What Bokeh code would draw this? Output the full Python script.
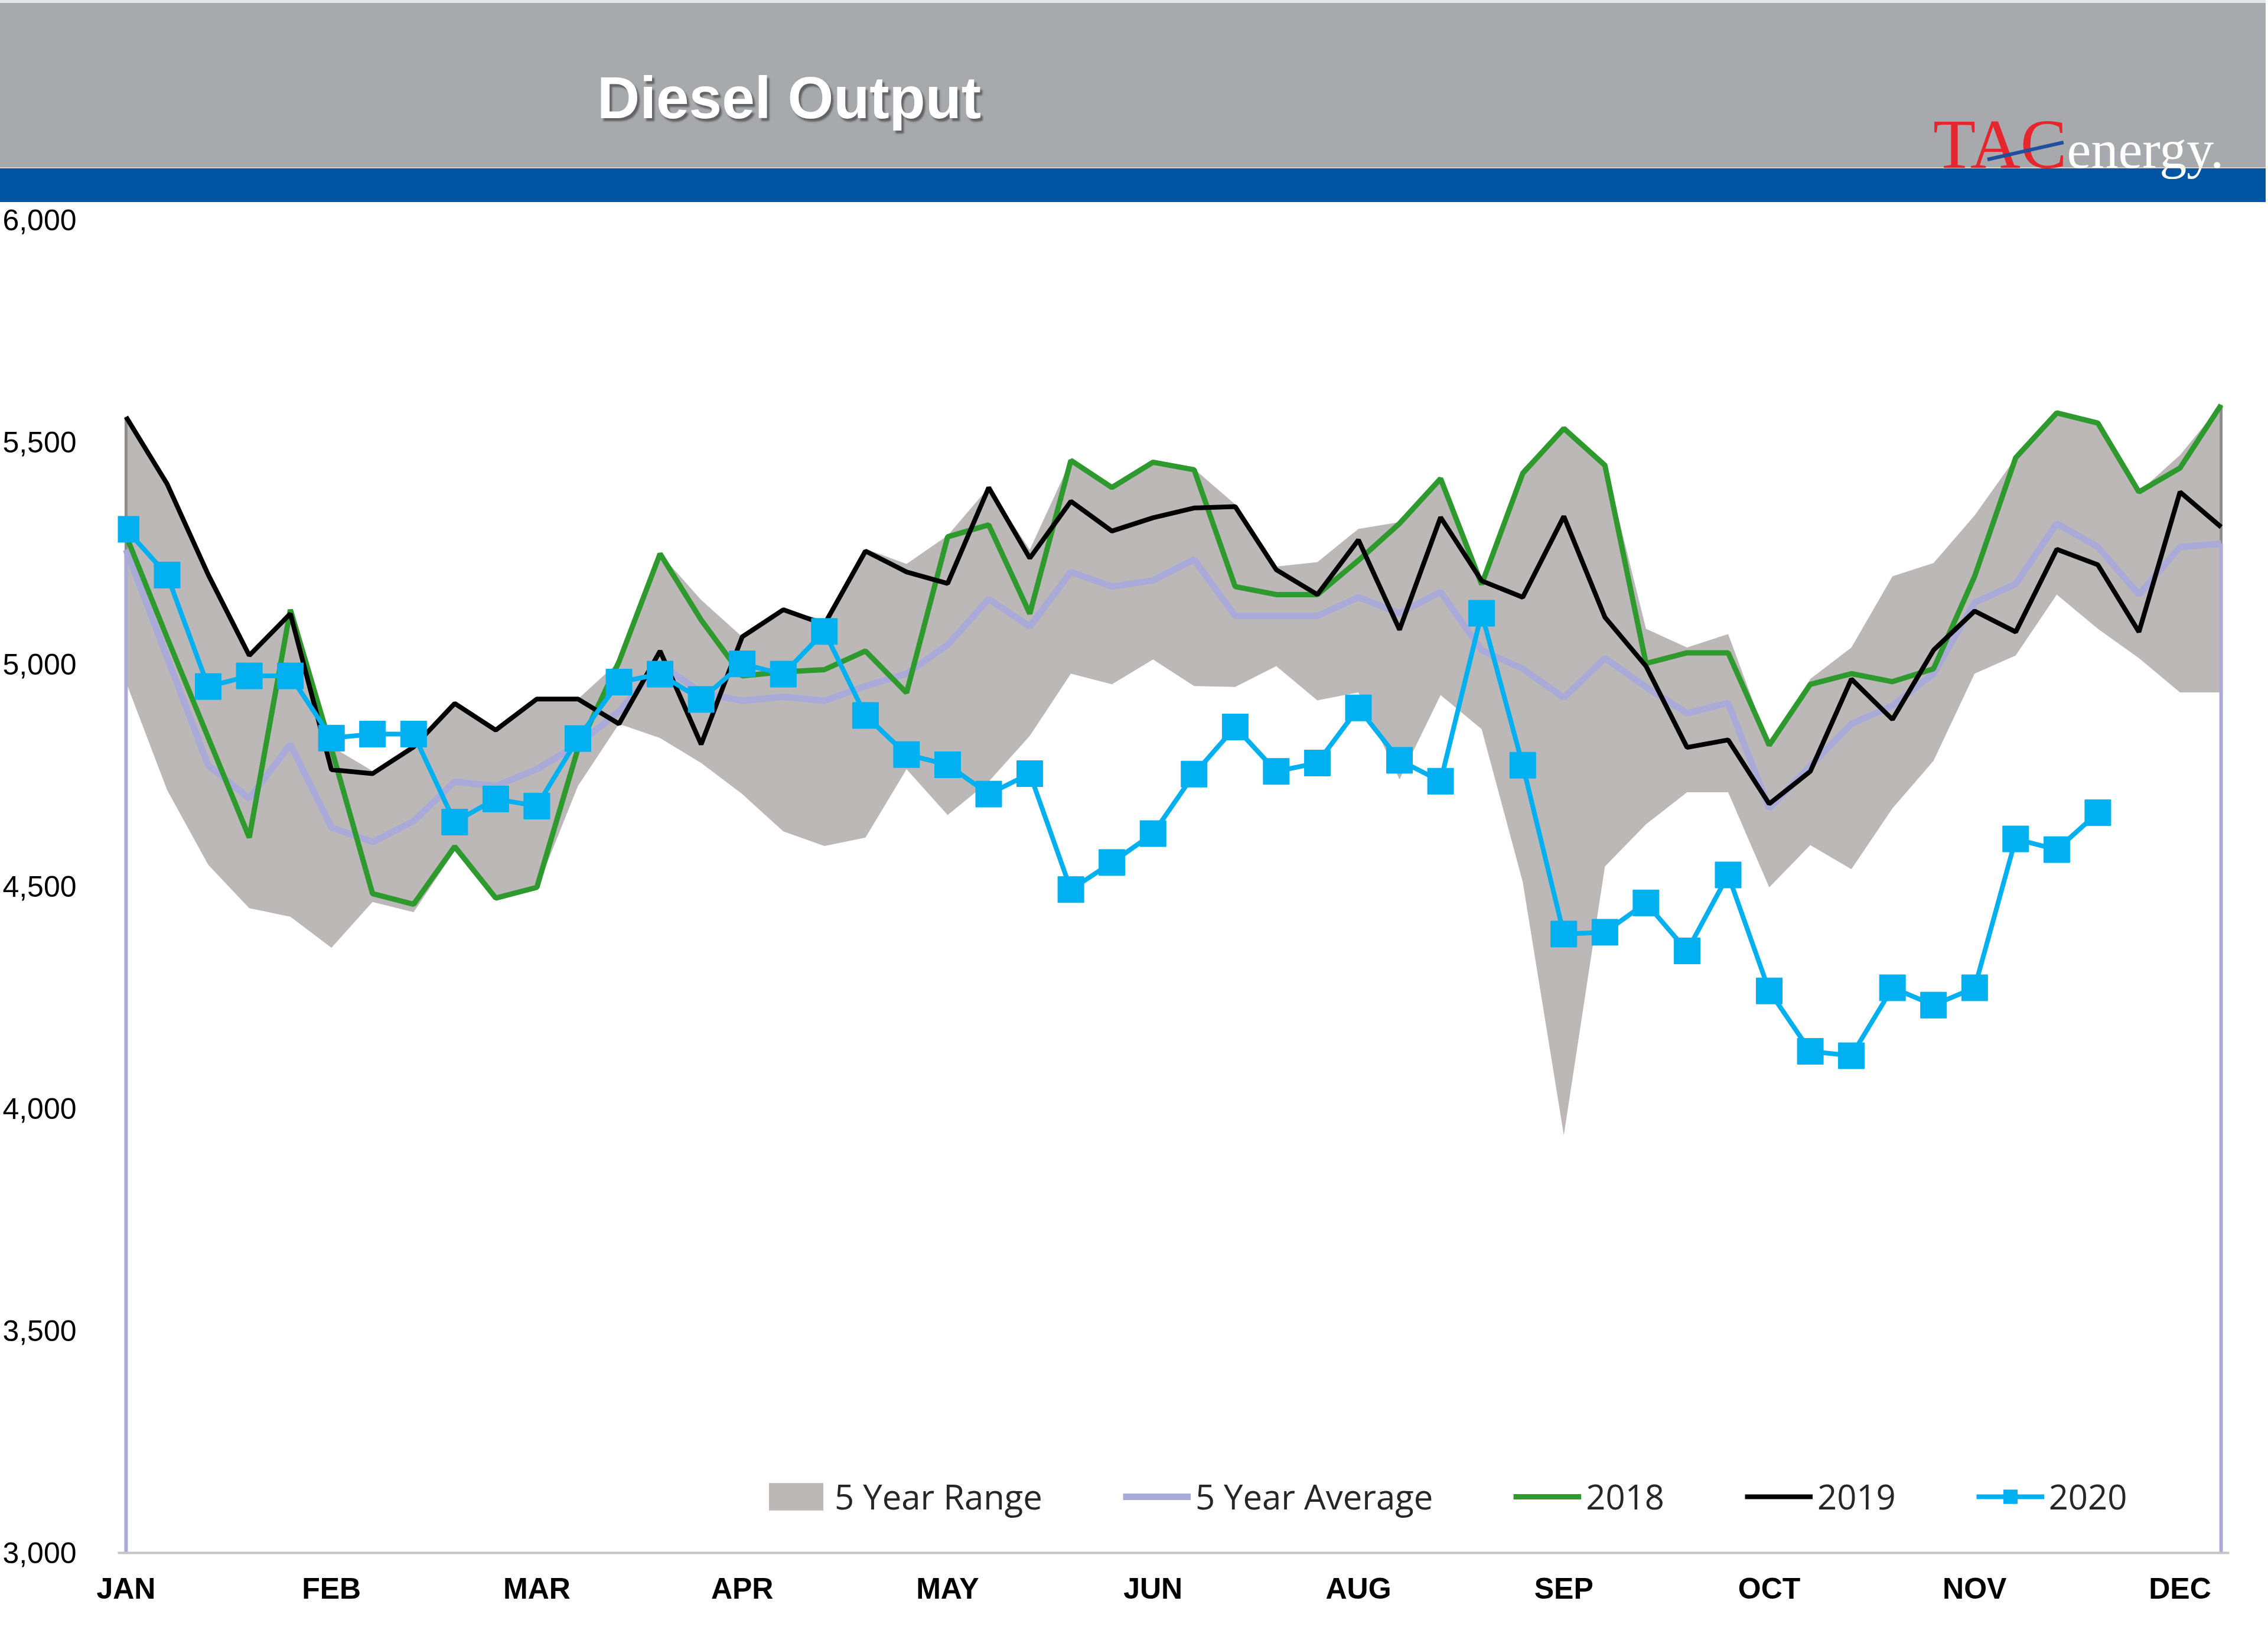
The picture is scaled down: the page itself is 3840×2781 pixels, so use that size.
from bokeh.plotting import figure
from bokeh.models import (Range1d, FixedTicker, NumeralTickFormatter, Legend,
                          LegendItem, ColumnDataSource, Div)
from bokeh.layouts import column
from bokeh.embed import file_html
from bokeh.resources import INLINE

# ---------------- data (thousand b/d, weekly) ----------------
WEEKS = list(range(52))
RANGE_HIGH = [5557, 5408, 5202, 5020, 5123, 4815, 4760, 4815, 4913, 4852,
              4922, 4922, 5006, 5249, 5145, 5062, 5123, 5100, 5260, 5226,
              5290, 5398, 5258, 5459, 5398, 5455, 5440, 5360, 5220, 5230,
              5305, 5320, 5420, 5190, 5440, 5531, 5454, 5080, 5038, 5068,
              4818, 4967, 5038, 5198, 5228, 5335, 5465, 5566, 5543, 5388,
              5471, 5584]
RANGE_LOW = [4960, 4717, 4549, 4451, 4432, 4362, 4465, 4442, 4580, 4470,
             4495, 4726, 4866, 4834, 4778, 4708, 4624, 4591, 4610, 4764,
             4661, 4736, 4839, 4979, 4955, 5011, 4951, 4949, 4996, 4919,
             4937, 4741, 4931, 4854, 4510, 3940, 4545, 4640, 4712, 4712,
             4498, 4593, 4539, 4676, 4783, 4979, 5020, 5157, 5080, 5014,
             4937, 4937]
AVG_5YR = [5258, 5016, 4773, 4698, 4820, 4633, 4600, 4647, 4736, 4726,
           4764, 4820, 4894, 5002, 4936, 4918, 4927, 4918, 4951, 4979,
           5044, 5147, 5085, 5208, 5175, 5189, 5236, 5109, 5109, 5109,
           5151, 5115, 5163, 5032, 4990, 4925, 5014, 4949, 4890, 4913,
           4676, 4771, 4866, 4907, 4979, 5139, 5181, 5317, 5264, 5157,
           5264, 5272]
Y2018 = [5290, 5060, 4835, 4610, 5123, 4810, 4484, 4460, 4590, 4474,
         4498, 4810, 5006, 5249, 5100, 4974, 4983, 4988, 5030, 4936,
         5287, 5314, 5114, 5459, 5398, 5455, 5438, 5175, 5157, 5157,
         5234, 5317, 5418, 5180, 5430, 5531, 5448, 5002, 5026, 5026,
         4818, 4955, 4979, 4961, 4990, 5198, 5465, 5566, 5543, 5388,
         5442, 5584]
Y2019 = [5557, 5406, 5202, 5020, 5114, 4763, 4754, 4814, 4912, 4852,
         4922, 4922, 4866, 5030, 4820, 5062, 5123, 5090, 5255, 5208,
         5182, 5398, 5239, 5367, 5300, 5330, 5352, 5355, 5213, 5157,
         5280, 5078, 5331, 5188, 5151, 5333, 5106, 4996, 4813, 4830,
         4686, 4759, 4967, 4876, 5032, 5120, 5073, 5259, 5224, 5073,
         5388, 5309]
Y2020 = [5304, 5201, 4950, 4974, 4974, 4834, 4843, 4843, 4645, 4697,
         4681, 4833, 4960, 4978, 4921, 5001, 4978, 5074, 4885, 4797,
         4774, 4708, 4754, 4493, 4554, 4619, 4753, 4859, 4759, 4778,
         4902, 4784, 4737, 5115, 4773, 4393, 4397, 4463, 4355, 4526,
         4265, 4129, 4119, 4272, 4233, 4272, 4607, 4583, 4666]
MONTH_TICKS = [0, 5, 10, 15, 20, 25, 30, 35, 40, 45, 50]
MONTH_LABELS = ["JAN", "FEB", "MAR", "APR", "MAY", "JUN", "AUG", "SEP",
                "OCT", "NOV", "DEC"]
Y_TICKS = [3000, 3500, 4000, 4500, 5000, 5500, 6000]
Y_MIN, Y_MAX = 3000, 6000
TITLE = "Diesel Output"

W = 3836
HEADER_H = 342
MAIN_H = 2435

# ---------------- header band (HTML) ----------------
header_html = f"""
<div style="position:relative;width:{W}px;height:{HEADER_H}px;background:#a8a9ad;overflow:hidden;margin:0;padding:0;">
  <div style="position:absolute;left:0;top:0;width:{W}px;height:5px;background:#e4e5e6;"></div>
  <div style="position:absolute;left:0;top:283px;width:{W}px;height:2px;background:#d6d1cc;"></div>
  <div style="position:absolute;left:0;top:285px;width:{W}px;height:{HEADER_H - 285}px;background:#0054a4;"></div>
  <div style="position:absolute;left:1011px;top:105px;font-family:'Liberation Sans';font-weight:bold;
       font-size:100px;line-height:120px;color:#ffffff;white-space:nowrap;letter-spacing:0px;
       text-shadow:4px 5px 3px rgba(40,40,40,0.55);">{TITLE}</div>
  <div style="position:absolute;left:3273px;top:187px;font-family:'Liberation Serif';font-size:115px;
       line-height:115px;white-space:nowrap;">
    <span style="color:#e5262c;font-size:118px;">TAC</span><span style="color:#ffffff;font-size:92px;">energy.</span>
  </div>
  <div style="position:absolute;left:3365px;top:267px;width:132px;height:6px;background:#1f4f9e;
       transform-origin:0 50%;transform:rotate(-12.7deg);"></div>
</div>
"""
header = Div(text=header_html, width=W, height=HEADER_H, margin=(0, 0, 0, 0))

# ---------------- main chart ----------------
p = figure(width=W, height=MAIN_H, x_range=Range1d(-0.2, 51.2), y_range=Range1d(Y_MIN, Y_MAX),
           output_backend="svg", toolbar_location=None,
           min_border_left=199, min_border_right=62, min_border_top=30, min_border_bottom=149)
p.outline_line_color = None
p.xgrid.visible = False
p.ygrid.visible = False
p.background_fill_color = "white"

src = ColumnDataSource(dict(week=WEEKS, high=RANGE_HIGH, low=RANGE_LOW, avg=AVG_5YR,
                            y18=Y2018, y19=Y2019))
src20 = ColumnDataSource(dict(week=WEEKS[:len(Y2020)], y20=Y2020))

r_range = p.varea(x="week", y1="low", y2="high", source=src, fill_color="#bcb8b8")
# darker band edges at both ends
p.segment(x0=[WEEKS[0], WEEKS[-1]], y0=[RANGE_LOW[0], RANGE_LOW[-1]],
          x1=[WEEKS[0], WEEKS[-1]], y1=[RANGE_HIGH[0], RANGE_HIGH[-1]],
          line_color="#8e8b8b", line_width=5)
# average drops to the axis at both ends (as in the source)
p.segment(x0=[WEEKS[0], WEEKS[-1]], y0=[AVG_5YR[0], AVG_5YR[-1]],
          x1=[WEEKS[0], WEEKS[-1]], y1=[Y_MIN, Y_MIN],
          line_color="#aaaad9", line_width=6)
r_avg = p.line("week", "avg", source=src, line_color="#aaaad9", line_width=11)
r18 = p.line("week", "y18", source=src, line_color="#2e9a2e", line_width=9)
r19 = p.line("week", "y19", source=src, line_color="#000000", line_width=8)
r20l = p.line("week", "y20", source=src20, line_color="#00b0f0", line_width=8)
r20m = p.scatter("week", "y20", source=src20, marker="square", size=44,
                 fill_color="#00b0f0", line_color="#00b0f0")

# axes
p.xaxis.ticker = FixedTicker(ticks=MONTH_TICKS)
p.xaxis.major_label_overrides = {t: l for t, l in zip(MONTH_TICKS, MONTH_LABELS)}
p.xaxis.major_label_text_font = "Liberation Sans"
p.xaxis.major_label_text_font_style = "bold"
p.xaxis.major_label_text_font_size = "50px"
p.xaxis.major_label_text_color = "black"
p.xaxis.major_label_standoff = 26
p.xaxis.axis_line_color = "#c4c4c4"
p.xaxis.axis_line_width = 4
p.xaxis.major_tick_line_color = None
p.xaxis.minor_tick_line_color = None

p.yaxis.ticker = FixedTicker(ticks=Y_TICKS)
p.yaxis.formatter = NumeralTickFormatter(format="0,0")
p.yaxis.major_label_text_font = "Liberation Sans"
p.yaxis.major_label_text_font_size = "50px"
p.yaxis.major_label_text_color = "black"
p.yaxis.major_label_standoff = 64
p.yaxis.axis_line_color = None
p.yaxis.major_tick_line_color = None
p.yaxis.minor_tick_line_color = None

legend = Legend(items=[
    LegendItem(label="5 Year Range", renderers=[r_range]),
    LegendItem(label="5 Year Average", renderers=[r_avg]),
    LegendItem(label="2018", renderers=[r18]),
    LegendItem(label="2019", renderers=[r19]),
    LegendItem(label="2020", renderers=[r20l, r20m]),
], orientation="horizontal", location=(1091, 56))
legend.background_fill_alpha = 0
legend.border_line_color = None
legend.padding = 0
legend.margin = 0
legend.spacing = 136
legend.glyph_width = 115
legend.glyph_height = 58
legend.label_height = 58
legend.label_standoff = 8
legend.label_text_font = "Open Sans"
legend.label_text_font_size = "58px"
legend.label_text_color = "#262626"
p.add_layout(legend)

layout = column(header, p, spacing=0)
open("out.html", "w").write(file_html(layout, INLINE))
